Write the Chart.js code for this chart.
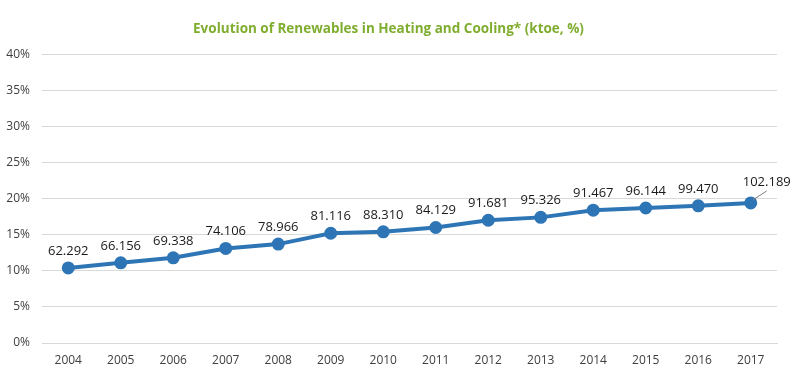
<!DOCTYPE html>
<html>
<head>
<meta charset="utf-8">
<script src="https://cdn.jsdelivr.net/npm/chart.js@4"></script>
<style>
html,body{margin:0;padding:0;background:#fff;}
#wrap{width:800px;height:378px;}
</style>
</head>
<body>
<div id="wrap"><canvas id="c" width="800" height="378"></canvas></div>
<script>
const years = ['2004','2005','2006','2007','2008','2009','2010','2011','2012','2013','2014','2015','2016','2017'];
const sharePct = [10.4, 11.1, 11.8, 13.1, 13.7, 15.2, 15.4, 16.0, 17.0, 17.4, 18.4, 18.7, 19.0, 19.4];
const ktoeLabels = ['62.292','66.156','69.338','74.106','78.966','81.116','88.310','84.129','91.681','95.326','91.467','96.144','99.470','102.189'];
const yTicks = [0,5,10,15,20,25,30,35,40];

const labelPlugin = {
  id: 'pointLabels',
  afterDatasetsDraw(chart) {
    const ctx = chart.ctx;
    const meta = chart.getDatasetMeta(0);
    ctx.save();
    ctx.font = '13px "Open Sans", "Noto Sans", sans-serif';
    ctx.fillStyle = '#1a1a1a';
    ctx.textAlign = 'center';
    ctx.textBaseline = 'alphabetic';
    meta.data.forEach((pt, i) => {
      const last = i === meta.data.length - 1;
      if (last) {
        ctx.strokeStyle = '#7f7f7f';
        ctx.lineWidth = 1;
        ctx.beginPath();
        ctx.moveTo(pt.x + 2, pt.y - 3);
        ctx.lineTo(pt.x + 16, pt.y - 12);
        ctx.stroke();
        ctx.fillText(ktoeLabels[i], pt.x + 16, pt.y - 17);
      } else {
        ctx.fillText(ktoeLabels[i], pt.x, pt.y - 13);
      }
    });
    ctx.restore();
  }
};

new Chart(document.getElementById('c'), {
  type: 'line',
  data: {
    labels: years,
    datasets: [{
      data: sharePct,
      borderColor: '#2e75b6',
      backgroundColor: '#2e75b6',
      borderWidth: 4,
      pointRadius: 4.5,
      pointHoverRadius: 4.5,
      pointBackgroundColor: '#2e75b6',
      pointBorderColor: '#2e75b6',
      tension: 0,
      fill: false
    }]
  },
  options: {
    responsive: false,
    animation: false,
    devicePixelRatio: 1,
    layout: { padding: { left: 0, right: 23, top: 0, bottom: 0 } },
    plugins: {
      legend: { display: false },
      tooltip: { enabled: false },
      title: {
        display: true,
        text: 'Evolution of Renewables in Heating and Cooling* (ktoe, %)',
        color: '#7fad2f',
        font: { family: '"Open Sans", "Noto Sans", sans-serif', size: 13.5, weight: 'bold' },
        padding: { top: 21, bottom: 17 }
      }
    },
    scales: {
      x: {
        offset: true,
        grid: { display: false, drawTicks: false },
        border: { display: true, color: '#d9d9d9', width: 1 },
        ticks: {
          color: '#404040',
          font: { family: '"Open Sans", "Noto Sans", sans-serif', size: 12 },
          padding: 10,
          maxRotation: 0,
          autoSkip: false
        },
        afterFit(s) { s.height = 35; }
      },
      y: {
        min: 0, max: 40,
        afterBuildTicks(s) { s.ticks = yTicks.map(v => ({ value: v })); },
        grid: { color: '#d9d9d9', lineWidth: 1, drawTicks: false },
        border: { display: false },
        ticks: {
          color: '#404040',
          font: { family: '"Open Sans", "Noto Sans", sans-serif', size: 12 },
          padding: 12,
          callback: v => v + '%'
        },
        afterFit(s) { s.width = 42; }
      }
    }
  },
  plugins: [labelPlugin]
});
</script>
</body>
</html>
